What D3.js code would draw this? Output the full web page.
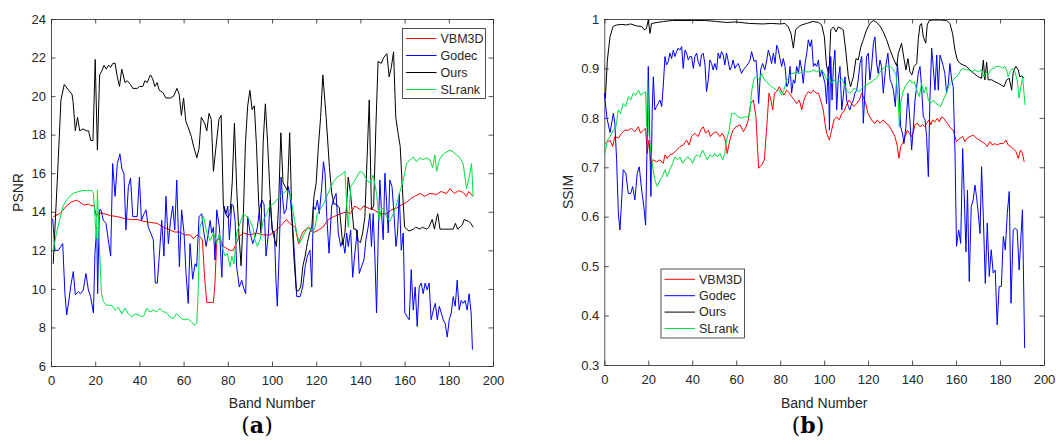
<!DOCTYPE html>
<html><head><meta charset="utf-8">
<script src="https://cdn.jsdelivr.net/npm/d3@7"></script>
<style>
body{margin:0;background:#fff;}
svg{display:block;}
text{font-family:"Liberation Sans",Arial,Helvetica,sans-serif;}
</style>
</head><body>
<svg id="chart" width="1056" height="444"></svg>
<script>
// ---------------- data ----------------
const seriesNames = ["VBM3D", "Godec", "Ours", "SLrank"];
const bandTicks = [0, 20, 40, 60, 80, 100, 120, 140, 160, 180, 200];
const psnrTicks = [6, 8, 10, 12, 14, 16, 18, 20, 22, 24];
const ssimTicks = [0.3, 0.4, 0.5, 0.6, 0.7, 0.8, 0.9, 1];

// PSNR panel (a): [band, PSNR]
const psnrVBM3D = [[1,13.75],[2,13.8],[4,13.9],[7,14.3],[9,14.5],[11.5,14.6],[13,14.5],[15,14.35],[17,14.4],[18.5,14.3],[19.5,14.35],[20.5,13.75],[21.5,13.95],[24,13.9],[27,13.8],[30,13.75],[33,13.65],[36,13.6],[39,13.6],[42,13.5],[45,13.45],[48,13.4],[51,13.2],[54,13.05],[56,12.95],[58,12.95],[60.5,12.8],[63,12.8],[64.5,12.6],[66,12.8],[67.5,12.7],[68.5,12.55],[69.5,10.6],[70.5,9.3],[73.5,9.3],[74.2,10.3],[75,12.55],[76.5,12.6],[78,12.2],[81,12],[82.5,12],[85,12.7],[87,12.9],[90,12.8],[93,12.9],[96,12.8],[99,12.8],[102,13.05],[105,13.4],[106.5,13.6],[108,13.4],[110.5,13.2],[112,12.35],[113,12.7],[114,12.95],[116.5,13.2],[118.5,12.9],[121,13.05],[123,13.2],[125.5,13.6],[128,13.75],[131,13.9],[134,14.0],[135.5,13.9],[137.5,14.3],[140,14.1],[141.5,14.3],[143.5,14.2],[146,14.1],[149,13.9],[152,13.9],[154,14.1],[156.5,14.2],[158.5,14.35],[161,14.5],[163,14.7],[164.5,14.8],[167,14.95],[169,14.8],[171.5,14.95],[174.5,14.9],[176.5,15.05],[179,14.95],[180.5,15.2],[182.5,14.95],[184.5,15.1],[186.5,15],[188,14.8],[189,15.05],[191,14.8]];

const psnrGodec = [[0.75,13.65],[1.8,12],[3.3,12],[4.4,12.2],[5.3,12.35],[6.3,9.75],[7.1,8.65],[8.1,9.4],[9,10.2],[10.1,10.9],[11,9.7],[12.4,9.85],[13.4,9.75],[14.6,9.95],[15.8,10.8],[16.9,9.95],[17.9,9.6],[19.2,8.75],[19.9,11.85],[20.7,13.2],[21.1,9.75],[21.9,14.1],[22.6,14.1],[23.7,13.55],[24.9,13.4],[25.9,12.55],[27,11.7],[27.9,16.5],[29,14.8],[30,16.5],[31.2,17],[32.1,16.2],[33,16],[33.9,13.05],[35,15.3],[36,15.75],[37,13.75],[38,13.75],[39,13.75],[40,15.8],[40.9,13.55],[42.1,13.9],[43,14.1],[44,13.2],[45.1,12.9],[46.3,12.55],[47.2,10.3],[48.1,10.3],[49,11.7],[50.1,13.55],[51.1,11.7],[52,14.8],[53.1,12.35],[54.1,13.55],[55.1,14.3],[56,13.05],[56.9,15.65],[58.1,11.15],[59.1,14.1],[60.2,12.9],[61.1,10.8],[62.1,9.25],[62.9,12.35],[64.1,10.5],[65.2,11.3],[65.9,11.15],[67,13.75],[68.2,13.9],[69,13.05],[70.2,12.2],[71.2,12.9],[72,13.55],[72.7,12.9],[73.5,13.2],[74.2,11.5],[75,14.1],[76.2,13.2],[77.3,10.6],[78.3,14.3],[79.2,13.9],[80,14.3],[80.7,12.55],[81.8,14.4],[82.5,14.3],[83.3,13.55],[84,11.15],[85.2,10.1],[86.3,10.45],[87,10.1],[88.1,9.75],[89,13.75],[90.1,12.9],[91.3,12.35],[92.3,12.7],[93.4,13.2],[94.3,14.1],[95.4,14.6],[96.4,14.4],[97.3,11.7],[98.4,12.9],[99.1,14.6],[100.2,13.05],[101.1,12.9],[101.8,10.45],[102.4,9.1],[103.3,12],[104.1,15.8],[104.9,14.6],[105.5,13.9],[106.4,14.1],[107.4,15.3],[108.2,14.8],[109.4,13.2],[110.4,11.3],[111.2,9.6],[112.7,9.6],[113.9,10.1],[115,11.15],[116,11.7],[117.2,12],[118,10.1],[118.7,14.3],[119.6,14.1],[120.5,14.6],[121.4,13.9],[122.5,15.3],[123.3,16.6],[124,16],[124.8,13.75],[125.8,11.85],[127,14.3],[127.8,14.6],[129,14.95],[130,12.9],[131.1,12.2],[132,12.55],[133,11.85],[133.8,12.9],[134.5,12.2],[135.6,13.05],[136.5,10.6],[137.5,11.85],[138.6,13.05],[139.5,10.8],[140.5,11.15],[141.6,11.5],[142.5,12.55],[143.5,13.2],[144.3,13.9],[145,12.2],[145.8,13.9],[146.6,11.5],[147.3,8.75],[148.1,12.9],[148.8,15.65],[149.6,13.9],[150.3,12.55],[151.1,16],[151.8,14.6],[152.6,12.9],[153.3,15.65],[154.3,15.3],[155.2,13.9],[156.1,12.2],[156.8,12.9],[157.6,14.95],[158.5,12],[159.4,12.9],[160.1,8.75],[161.2,8.55],[162.1,8.4],[163,11],[163.9,8.9],[164.8,10.1],[165.7,8.05],[166.6,10.1],[167.5,10.3],[168.4,9.75],[169.3,10.3],[170.2,9.95],[171.1,10.3],[172,8.4],[173,8.9],[173.9,9.25],[174.8,8.4],[175.7,9.1],[176.6,8.75],[177.5,8.4],[178.4,8.2],[179.3,7.5],[180.2,8.4],[181.1,8.75],[182,9.6],[182.9,9.1],[183.8,10.45],[184.7,8.9],[185.6,9.4],[186.5,9.25],[187.4,9.4],[188.3,8.9],[189.2,9.75],[190.1,8.75],[190.7,6.85]];

const psnrOurs = [[1,11.3],[3,16],[4.5,19.8],[6,20.6],[8,20.3],[9.5,20.1],[10,19.7],[11,18.2],[12,18.9],[13,18.2],[14.5,18.3],[16,18.2],[17,18.2],[18,17.7],[19,17.7],[20,21.9],[21,17.2],[22,21.1],[23,21.3],[24,21.6],[25,21.4],[26,21.6],[27,21.5],[28,21.7],[29,21.7],[30,21],[31,20.5],[32,21.4],[33.5,20.7],[34.5,20.8],[36,20.6],[37,20.4],[39,20.4],[40,20.5],[41.5,20.5],[42.5,20.8],[43.5,20.7],[45,21.1],[46,20.9],[47,20.5],[48,20.7],[49,20.3],[50.5,20.2],[52,19.9],[54,19.9],[55.5,20],[57,20.4],[58,20.1],[59,19],[60,19.9],[61,18.7],[62,18.4],[63.5,17.9],[64.5,17.4],[66,16.8],[67,17.3],[68,18.9],[69.5,18.6],[70.5,18.2],[71.5,19.1],[72.5,18.8],[73.5,16.1],[74.5,17.2],[76,18.8],[77,19],[78,14.3],[79,13.9],[80,13.7],[81,13.9],[82,15.5],[83,18.6],[84,15.3],[85,12.9],[86,11.2],[87,13.7],[88,17.6],[89,19.5],[90,20.3],[91,19.3],[92,19.5],[93,17.4],[94,14.4],[95,12.9],[96,17.6],[97,19.6],[98,17.6],[99,15.2],[100,13.1],[102,12.2],[103,14.4],[104,18.1],[105,15.5],[106,15.3],[107,15.1],[108,18.1],[109,13.7],[110,11.5],[111,9.9],[112,9.9],[113,10.1],[114,11.2],[115,11.7],[116,12.4],[117,12.9],[118,13.2],[119,14.8],[120,15.5],[121,17.4],[122,18.9],[123,21.1],[124.5,18.9],[126,16.3],[127,15],[128,14.4],[129,14.4],[130.5,14.2],[132,12.3],[133,12.9],[134.5,15.8],[135.5,15],[137,13.1],[138,13.1],[139,12.5],[140,12.4],[141,12.9],[142,13.7],[143,16.7],[144,19.8],[145,14.1],[146,14.3],[147,18.4],[148,21.8],[149.5,21.7],[150.5,22],[152,22.2],[153,21],[154,21.5],[155,22.3],[156,18.9],[157,18.1],[158,17.4],[159,15.2],[160,13.2],[161,13.1],[162,13],[164,13.1],[165,13.2],[167,13.1],[168,13.2],[170,13.1],[171,13.2],[172.5,13.6],[173.5,13.1],[174.5,13.7],[175,13.9],[176,13.1],[178,13.1],[180,13.1],[182,13.1],[183,13.4],[184,13.1],[186,13.3],[187,13.6],[189,13.5],[190,13.4],[191,13.2]];

const psnrSLrank = [[1,12],[2.5,12.9],[4,13.6],[5.5,14.3],[7,14.6],[8.5,14.8],[10,14.95],[12.5,15.05],[14.5,15.1],[16.5,15.1],[18.5,15.1],[19.2,14.95],[19.8,13.9],[20.5,12.6],[21,15.1],[22,12],[22.8,9.8],[23.7,9.35],[25,9.15],[27.5,9.15],[29,8.9],[30.5,9.05],[32,8.7],[33.5,9.0],[35,8.7],[36.5,8.55],[38,8.7],[39.5,8.65],[41,8.55],[42,8.6],[43.3,9.0],[44.8,8.8],[46.3,8.9],[47.8,8.8],[49.3,9.0],[50.8,8.8],[52,8.8],[53.8,8.55],[55.4,8.45],[56.6,8.7],[57.6,8.65],[59,8.45],[60.5,8.4],[62,8.45],[63.5,8.3],[65,8.1],[66,8.25],[66.6,9.9],[67.4,13.2],[69,13.75],[70.5,12.9],[72,12.5],[73.5,12.9],[75,12.35],[76.2,12.9],[77.3,12.2],[78.8,11.7],[79.8,11.85],[81,11.15],[81.8,11.7],[82.8,11.3],[84,12.9],[85.5,13.4],[87,13.9],[88.6,13.75],[90,13.55],[91.3,13.2],[92.3,12.55],[93.4,12.2],[94.6,12.55],[96,13.55],[97.6,13.9],[99,14.3],[100.6,14.4],[102,14.6],[103.6,14.8],[105,14.95],[106.7,15.1],[108.2,14.95],[109.7,13.9],[111.2,12.9],[112.4,12.35],[113.9,12.7],[115.4,13.05],[117,13.2],[118.4,12.9],[119.5,13.2],[120.5,13.9],[121.7,14.1],[123.3,14.4],[124.8,14.8],[126.3,15.2],[127.8,15.55],[129.5,15.8],[131,15.9],[132.3,16],[133,16.1],[133.7,14.6],[134.5,13.2],[135.6,15.3],[136.8,15.5],[138.3,15.8],[139.8,16.1],[141.3,16],[142.8,15.65],[144.3,15.5],[145.8,15.9],[147.3,14.95],[148.5,13.55],[149.6,14.2],[150.6,14.1],[151.8,13.75],[153.3,13.5],[154.9,13.9],[156.4,14.4],[157.9,15.05],[159.4,15.65],[160.9,16.5],[162.4,16.7],[163.9,16.85],[165.4,16.6],[166.9,16.8],[168.4,16.7],[169.9,16.8],[171.4,16.7],[172.7,16.3],[173.7,16.95],[174.5,16.1],[175.7,16.7],[177.5,17],[179,17.1],[180.5,17.2],[182,17.1],[183.5,16.95],[185,16.8],[186.5,16.5],[188,15.2],[189.2,15.8],[190.3,16.5],[191,14.8]];

// SSIM panel (b): [band, SSIM]
const ssimVBM3D = [[0.5,0.748],[2.6,0.755],[3.8,0.742],[4.8,0.762],[6.4,0.759],[7.9,0.769],[9.4,0.775],[10.9,0.775],[12.4,0.779],[13.9,0.772],[15.5,0.782],[16.5,0.769],[17.7,0.775],[18.8,0.779],[19.5,0.728],[20.3,0.755],[21.2,0.708],[22.3,0.715],[23.8,0.711],[25.3,0.715],[26.8,0.708],[27.6,0.725],[28.6,0.718],[29.8,0.725],[31.4,0.728],[32.9,0.735],[34.4,0.742],[35.9,0.745],[37.4,0.755],[38.6,0.745],[39.7,0.762],[41.2,0.769],[42.7,0.762],[43.8,0.775],[45,0.782],[46.1,0.769],[47.3,0.775],[48.3,0.762],[49.5,0.769],[51,0.772],[52.6,0.762],[53.6,0.769],[54.8,0.759],[55.9,0.728],[57.1,0.755],[58.5,0.775],[60,0.782],[61.7,0.786],[63.3,0.772],[64.5,0.782],[65.5,0.796],[66.6,0.829],[67.8,0.836],[69,0.802],[69.6,0.748],[70.2,0.698],[71.6,0.705],[72.8,0.715],[73.9,0.782],[74.9,0.85],[75.8,0.836],[76.6,0.816],[77.4,0.85],[78.4,0.853],[79.6,0.863],[80.7,0.853],[81.7,0.846],[83,0.856],[84.2,0.85],[85.2,0.843],[86.4,0.836],[87.5,0.829],[88.7,0.836],[89.8,0.816],[90.8,0.836],[91.7,0.846],[92.8,0.853],[93.9,0.85],[95.1,0.856],[96.3,0.85],[97.4,0.85],[98.4,0.836],[99.6,0.816],[100.4,0.789],[101.1,0.769],[102.4,0.755],[103.4,0.775],[104.5,0.796],[105.7,0.802],[106.9,0.796],[108,0.809],[109,0.813],[110.2,0.826],[111.3,0.836],[112.5,0.829],[113.6,0.823],[114.8,0.829],[116,0.836],[117.1,0.85],[117.8,0.843],[118.9,0.829],[119.9,0.809],[120.8,0.802],[122.1,0.792],[123.1,0.789],[124.2,0.796],[125.4,0.789],[126.9,0.796],[128.1,0.789],[129.5,0.785],[130.7,0.775],[132.2,0.762],[133.3,0.742],[134,0.718],[134.8,0.742],[135.7,0.748],[136.8,0.762],[137.8,0.775],[138.7,0.769],[139.8,0.762],[140.6,0.772],[141.3,0.786],[142.4,0.789],[143.6,0.782],[144.8,0.786],[145.9,0.782],[146.6,0.789],[147.7,0.796],[148.6,0.786],[149.3,0.796],[150.4,0.792],[151.5,0.799],[152.4,0.792],[153.4,0.802],[154.5,0.799],[155.4,0.792],[156.5,0.786],[157.5,0.779],[158.7,0.775],[159.5,0.762],[160.2,0.752],[161.8,0.759],[163,0.762],[164.1,0.752],[165.1,0.759],[166.3,0.762],[167.8,0.765],[169.3,0.759],[170.6,0.755],[171.6,0.752],[173.1,0.748],[174.2,0.742],[175.4,0.752],[176.6,0.745],[177.7,0.748],[178.7,0.745],[179.9,0.748],[181.5,0.748],[182.7,0.755],[183.7,0.745],[184.8,0.742],[186,0.738],[187.2,0.732],[188.3,0.718],[189.3,0.735],[190.2,0.728],[191,0.711]];

const ssimGodec = [[0,0.85],[1.2,0.8],[2.6,0.77],[4.1,0.809],[4.8,0.789],[5.6,0.715],[6.4,0.607],[7.1,0.573],[7.9,0.634],[8.6,0.695],[9.8,0.688],[10.9,0.647],[12,0.647],[12.9,0.661],[13.9,0.634],[15,0.688],[15.9,0.701],[17,0.654],[18,0.62],[18.8,0.583],[19.5,0.755],[20,0.904],[20.8,0.735],[21.2,0.641],[21.8,0.816],[22.3,0.883],[23,0.816],[23.8,0.823],[24.5,0.829],[25.3,0.836],[26.1,0.823],[26.8,0.863],[27.6,0.924],[28.3,0.907],[29.1,0.914],[29.8,0.931],[30.6,0.92],[31.4,0.937],[32.1,0.924],[32.9,0.934],[33.6,0.941],[34.4,0.937],[35.2,0.944],[35.9,0.9],[36.7,0.937],[37.4,0.931],[38.2,0.917],[38.9,0.924],[39.7,0.924],[40.5,0.9],[41.2,0.924],[42,0.931],[42.7,0.914],[43.5,0.904],[44.2,0.927],[45,0.931],[45.8,0.907],[46.5,0.853],[47.3,0.877],[48,0.917],[48.8,0.91],[49.5,0.897],[50.3,0.91],[51.1,0.897],[51.8,0.931],[52.6,0.92],[53.3,0.934],[54.1,0.927],[54.8,0.907],[55.6,0.931],[56.4,0.914],[57.1,0.897],[57.9,0.904],[58.6,0.917],[59.4,0.9],[60.2,0.907],[60.9,0.91],[61.7,0.9],[62.4,0.89],[63.2,0.897],[64.5,0.904],[65.5,0.91],[66.3,0.917],[67,0.934],[68.1,0.914],[69,0.917],[69.6,0.883],[70.2,0.829],[71.1,0.897],[72,0.91],[73,0.897],[73.9,0.917],[74.6,0.937],[75.4,0.924],[76.1,0.91],[76.9,0.931],[77.7,0.91],[78.4,0.947],[79.2,0.937],[79.9,0.92],[80.7,0.904],[81.4,0.92],[82.2,0.904],[83,0.863],[83.7,0.87],[84.5,0.904],[85.2,0.85],[86,0.877],[86.7,0.87],[87.5,0.904],[88.3,0.89],[89,0.917],[89.8,0.897],[90.5,0.87],[91.3,0.91],[92.1,0.931],[92.8,0.958],[93.6,0.944],[94.3,0.958],[95.1,0.904],[95.8,0.91],[96.6,0.904],[97.4,0.917],[98.1,0.883],[98.9,0.897],[99.6,0.883],[100.4,0.87],[101.1,0.829],[101.9,0.904],[102.4,0.775],[103,0.924],[103.6,0.836],[104.2,0.904],[104.9,0.937],[105.7,0.816],[106.4,0.877],[107.2,0.904],[108,0.816],[108.7,0.843],[109.5,0.883],[110.2,0.836],[111,0.823],[111.7,0.816],[112.5,0.829],[113.3,0.836],[114,0.85],[114.8,0.856],[115.5,0.877],[116.3,0.91],[117.1,0.924],[117.8,0.789],[118.6,0.856],[119.3,0.924],[120.1,0.931],[120.8,0.877],[121.6,0.904],[122.4,0.951],[123.1,0.964],[123.9,0.91],[124.6,0.89],[125.4,0.917],[126.1,0.904],[126.9,0.85],[128.1,0.907],[129,0.931],[130,0.877],[130.7,0.87],[131.5,0.856],[132.4,0.823],[133.3,0.91],[134,0.87],[134.8,0.782],[135.6,0.769],[136.3,0.748],[137.2,0.782],[138.1,0.85],[139,0.796],[139.8,0.735],[140.6,0.782],[141.3,0.836],[142.1,0.863],[142.8,0.89],[143.6,0.904],[144.3,0.863],[145.1,0.802],[145.9,0.796],[146.6,0.762],[147.4,0.681],[148.1,0.836],[148.9,0.941],[149.6,0.904],[150.4,0.856],[151.2,0.927],[151.9,0.856],[152.7,0.927],[153.4,0.917],[154.2,0.904],[154.9,0.89],[155.7,0.85],[156.5,0.87],[157.2,0.91],[158,0.877],[158.7,0.863],[159.5,0.735],[160.2,0.54],[161.2,0.573],[162.1,0.546],[163,0.738],[163.7,0.647],[164.5,0.529],[165.2,0.654],[166,0.469],[166.9,0.62],[167.8,0.634],[168.6,0.664],[169.3,0.641],[170.1,0.607],[170.9,0.566],[171.6,0.701],[172.4,0.6],[173.3,0.465],[174.2,0.587],[175.1,0.479],[176,0.533],[176.9,0.486],[177.8,0.492],[178.7,0.381],[179.6,0.459],[180.6,0.459],[181.5,0.56],[182.4,0.533],[183.3,0.607],[184.2,0.651],[185,0.425],[186,0.573],[186.9,0.577],[187.8,0.573],[188.7,0.492],[189.6,0.566],[190.2,0.614],[191.2,0.334]];

const ssimOurs = [[0.5,0.84],[1.4,0.917],[2.6,0.964],[4,0.985],[5.6,0.988],[8,0.989],[10,0.988],[12,0.99],[14.7,0.986],[17,0.985],[18.2,0.978],[19.2,0.981],[20,0.998],[20.8,0.971],[21.5,0.991],[24,0.993],[27,0.995],[31,0.997],[41,0.997],[46,0.997],[51,0.995],[55.6,0.993],[60,0.994],[66,0.991],[72,0.99],[76,0.991],[80,0.99],[82.2,0.991],[83.7,0.984],[84.9,0.971],[86,0.941],[87,0.978],[88.3,0.984],[89.8,0.988],[92,0.991],[95,0.995],[97.4,0.993],[98.9,0.988],[100.1,0.964],[101.1,0.904],[102.2,0.89],[103,0.978],[104.2,0.984],[105.4,0.974],[106.4,0.984],[107.7,0.981],[108.7,0.978],[109.8,0.937],[111,0.883],[112,0.863],[113.3,0.883],[114.5,0.92],[115.5,0.917],[116.7,0.944],[117.8,0.958],[119.3,0.978],[120.8,0.991],[122.4,0.997],[123.9,0.993],[125.4,0.986],[126.9,0.974],[128.4,0.958],[130,0.937],[131.5,0.92],[133,0.905],[133.7,0.93],[135.2,0.951],[136.3,0.92],[137.2,0.897],[138.1,0.92],[139,0.893],[139.9,0.887],[140.9,0.904],[142.1,0.91],[142.8,0.958],[143.6,0.988],[144.3,0.991],[145.1,0.964],[146.2,0.951],[146.9,0.988],[147.8,0.997],[149.6,0.998],[152.7,0.998],[155.7,0.997],[157.2,0.991],[158.4,0.971],[159.5,0.937],[160.6,0.917],[161.8,0.91],[163.3,0.907],[164.8,0.904],[166.3,0.897],[168.1,0.89],[170.1,0.883],[171.6,0.88],[172.4,0.917],[173.1,0.877],[173.9,0.913],[174.6,0.877],[176.2,0.877],[177.7,0.873],[179.2,0.87],[180.7,0.866],[181.8,0.863],[183,0.877],[184.2,0.88],[185.3,0.856],[186,0.893],[187.2,0.904],[188.3,0.897],[189,0.883],[190,0.885],[190.9,0.88]];

const ssimSLrank = [[0.3,0.728],[1.4,0.755],[2.6,0.762],[4.1,0.775],[5.3,0.782],[6.4,0.816],[7.4,0.809],[8.6,0.829],[9.8,0.823],[10.9,0.843],[12,0.836],[13.2,0.85],[14.4,0.846],[15.5,0.856],[16.5,0.846],[17.7,0.85],[18.8,0.853],[19.2,0.782],[19.7,0.877],[20.3,0.769],[21.1,0.735],[22,0.701],[23,0.674],[24.1,0.661],[25.3,0.674],[26.4,0.681],[27.6,0.695],[28.6,0.681],[29.8,0.695],[31.1,0.708],[32.1,0.721],[33.2,0.715],[34.4,0.721],[35.6,0.708],[36.7,0.715],[37.7,0.721],[38.9,0.718],[40.2,0.708],[41.2,0.721],[42.3,0.725],[43.5,0.721],[44.7,0.735],[45.8,0.725],[46.8,0.715],[48,0.725],[49.2,0.721],[50.3,0.728],[51.5,0.721],[52.6,0.728],[53.8,0.715],[54.8,0.728],[55.6,0.755],[56.8,0.775],[57.9,0.809],[59.4,0.809],[60.9,0.802],[62.4,0.799],[63.9,0.802],[65.5,0.802],[66.2,0.812],[67.1,0.856],[68.1,0.88],[69.3,0.883],[70.5,0.877],[71.6,0.89],[72.7,0.877],[73.9,0.873],[75.1,0.866],[76.1,0.863],[77.2,0.86],[78.4,0.856],[79.6,0.856],[80.7,0.846],[81.7,0.856],[83,0.877],[84.2,0.883],[85.2,0.89],[86.3,0.89],[87.5,0.893],[89,0.89],[90.5,0.897],[92,0.893],[93.5,0.893],[95.1,0.897],[96.6,0.893],[98.1,0.897],[99.6,0.893],[101.1,0.877],[102.2,0.883],[103.4,0.87],[104.5,0.877],[105.7,0.87],[106.9,0.873],[108,0.88],[109,0.87],[110.2,0.856],[111.4,0.85],[112.5,0.853],[113.6,0.86],[114.8,0.856],[116,0.853],[117.1,0.86],[118.1,0.863],[119.3,0.866],[120.5,0.87],[121.6,0.873],[122.7,0.877],[123.9,0.88],[125.4,0.893],[126.9,0.9],[128.4,0.904],[130,0.904],[131.5,0.897],[132.7,0.887],[133.7,0.836],[134.2,0.782],[134.8,0.829],[135.7,0.85],[136.8,0.863],[137.8,0.87],[139,0.877],[140.1,0.87],[141,0.873],[142.1,0.856],[143.3,0.843],[144.3,0.87],[145.4,0.85],[146.3,0.863],[147.4,0.836],[148.4,0.829],[149.6,0.836],[150.9,0.829],[151.9,0.826],[153,0.823],[154.2,0.836],[155.2,0.846],[156.5,0.863],[157.5,0.87],[158.7,0.877],[159.9,0.883],[161,0.887],[162.2,0.897],[163.3,0.9],[164.5,0.897],[165.6,0.897],[167.1,0.893],[168.6,0.897],[170.1,0.893],[171.6,0.897],[172.7,0.883],[173.6,0.893],[174.6,0.887],[175.7,0.897],[176.9,0.9],[178.4,0.904],[179.9,0.904],[181.2,0.9],[182.2,0.904],[183,0.897],[183.7,0.883],[184.5,0.893],[185.6,0.9],[186.8,0.893],[187.8,0.877],[188.6,0.84],[189.5,0.863],[190.3,0.883],[190.9,0.85],[191.4,0.826]];

// ---------------- drawing ----------------
const seriesColors = {VBM3D: "#ff0000", Godec: "#0000ff", Ours: "#000000", SLrank: "#00e040"};
const axisColor = "#262626";
const svg = d3.select("#chart");

function drawPanel(o) {
  const x = d3.scaleLinear().domain([0, 200]).range(o.xRange);
  const y = d3.scaleLinear().domain(o.yDomain).range(o.yRange);
  const g = svg.append("g");
  const [x0, x1] = o.xRange, [y0, y1] = o.yRange;
  const tk = -4.5;

  const styleAxis = sel => {
    sel.select(".domain").attr("stroke", axisColor).attr("stroke-width", 0.8);
    sel.selectAll(".tick line").attr("stroke", axisColor).attr("stroke-width", 0.8);
    sel.selectAll(".tick text").attr("fill", axisColor).style("font-size", "13px")
      .style("font-family", '"Liberation Sans", Arial, sans-serif');
  };

  g.append("g").attr("transform", `translate(0,${y0})`)
    .call(d3.axisBottom(x).tickValues(bandTicks).tickSizeInner(tk).tickSizeOuter(0).tickPadding(10).tickFormat(d3.format("d")))
    .call(styleAxis);
  g.append("g").attr("transform", `translate(0,${y1})`)
    .call(d3.axisTop(x).tickValues(bandTicks).tickSizeInner(tk).tickSizeOuter(0).tickFormat(""))
    .call(styleAxis);
  g.append("g").attr("transform", `translate(${x0},0)`)
    .call(d3.axisLeft(y).tickValues(o.yTicks).tickSizeInner(tk).tickSizeOuter(0).tickPadding(5).tickFormat(d3.format("~g")))
    .call(styleAxis);
  g.append("g").attr("transform", `translate(${x1},0)`)
    .call(d3.axisRight(y).tickValues(o.yTicks).tickSizeInner(tk).tickSizeOuter(0).tickFormat(""))
    .call(styleAxis);

  const line = d3.line().x(d => x(d[0])).y(d => y(d[1]));
  o.series.forEach((s, i) => {
    g.append("path").datum(s).attr("fill", "none")
      .attr("stroke", seriesColors[seriesNames[i]]).attr("stroke-width", 1)
      .attr("stroke-linejoin", "round").attr("d", line);
  });

  // axis labels
  g.append("text").attr("x", (x0 + x1) / 2).attr("y", 408).attr("text-anchor", "middle")
    .attr("fill", axisColor).style("font-size", "14px").text("Band Number");
  g.append("text").attr("transform", `translate(${o.yLabelX},${(y0 + y1) / 2}) rotate(-90)`)
    .attr("text-anchor", "middle").attr("fill", axisColor).style("font-size", "14px").text(o.yLabel);

  // panel letter
  const lt = g.append("text").attr("x", o.letterX).attr("y", 433).attr("text-anchor", "middle")
    .attr("fill", "#000").style("font-size", "22px")
    .style("font-family", '"DejaVu Serif", "Liberation Serif", serif');
  lt.append("tspan").text("(");
  lt.append("tspan").style("font-weight", "bold").text(o.letter);
  lt.append("tspan").text(")");

  // legend
  const L = o.legend;
  const lg = g.append("g");
  lg.append("rect").attr("x", L.x).attr("y", L.y).attr("width", L.w).attr("height", L.h)
    .attr("fill", "#fff").attr("stroke", axisColor).attr("stroke-width", 0.8);
  seriesNames.forEach((n, i) => {
    const ry = L.y + L.first + i * L.step;
    lg.append("line").attr("x1", L.x + 3.5).attr("x2", L.x + 34).attr("y1", ry).attr("y2", ry)
      .attr("stroke", seriesColors[n]).attr("stroke-width", 1);
    lg.append("text").attr("x", L.x + 38).attr("y", ry).attr("dy", "0.35em")
      .attr("fill", axisColor).style("font-size", "12.5px").text(n);
  });
}

drawPanel({
  xRange: [51, 493], yRange: [366, 19], yDomain: [6, 24], yTicks: psnrTicks,
  yLabel: "PSNR", yLabelX: 23, letter: "a", letterX: 257,
  series: [psnrVBM3D, psnrGodec, psnrOurs, psnrSLrank],
  legend: {x: 402.5, y: 28.5, w: 83, h: 70, first: 10, step: 17}
});
drawPanel({
  xRange: [604.3, 1044], yRange: [365, 19], yDomain: [0.3, 1], yTicks: ssimTicks,
  yLabel: "SSIM", yLabelX: 573, letter: "b", letterX: 808,
  series: [ssimVBM3D, ssimGodec, ssimOurs, ssimSLrank],
  legend: {x: 661, y: 269, w: 83.5, h: 69, first: 10.3, step: 16.4}
});
</script>
</body></html>
